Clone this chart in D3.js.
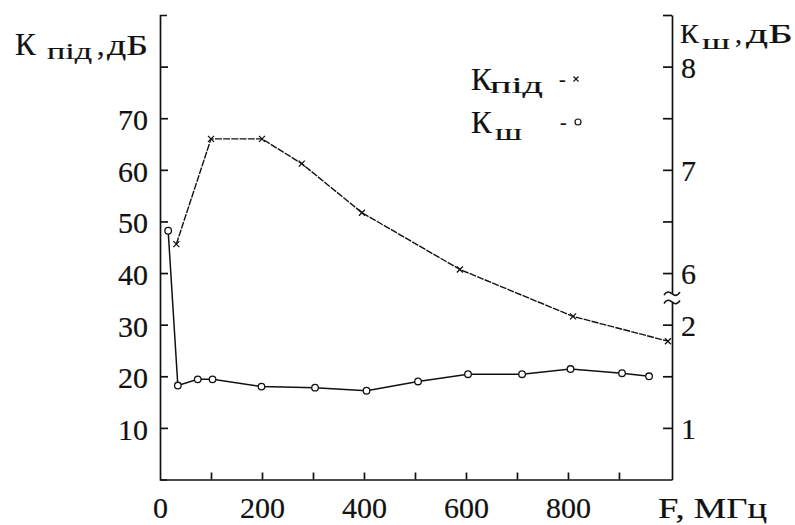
<!DOCTYPE html>
<html><head><meta charset="utf-8">
<script src="https://cdn.jsdelivr.net/npm/d3@7"></script>
<style>
body{margin:0;background:#fff}
svg{display:block;background:#fff}
.axis path,.axis line{stroke:#111;stroke-width:1.7px;fill:none}
</style>
</head><body>
<svg id="c" width="795" height="525"></svg>
<script>
// ---- data ----
const freqKpid = [32, 100, 200, 278, 396, 588, 810, 996];
const kpid     = [45.6, 66, 66, 61.2, 51.7, 40.7, 31.6, 26.8];
const freqKsh  = [16, 35, 74, 103, 199, 304, 405, 506, 604, 710, 805, 906, 959];
const ksh      = [6.41, 1.41, 1.47, 1.47, 1.40, 1.39, 1.36, 1.45, 1.52, 1.52, 1.57, 1.53, 1.50];
const leftTicks  = [10, 20, 30, 40, 50, 60, 70, 80];
const leftLabels = [10, 20, 30, 40, 50, 60, 70];
const rightUpperTicks = [6, 6.5, 7, 7.5, 8, 8.5];
const rightLowerTicks = [1, 1.5, 2];
const rightLabels = [1, 2, 6, 7, 8];
const xMinorTicks = [100, 200, 300, 400, 500, 600, 700, 800, 900];
const xLabels = [0, 200, 400, 600, 800];

const FONT = '"Liberation Serif"';
const INK = "#111";
const svg = d3.select("#c");
const x = d3.scaleLinear().domain([0, 1004]).range([160, 672]);
const y = d3.scaleLinear().domain([0, 90]).range([479.5, 15]);
// right axis: two broken linear scales (upper 6..8 dB, lower 1..2 dB)
const yUp = d3.scaleLinear().domain([5.8, 8.5]).range([y(5.8 * 20 - 80), y(8.5 * 20 - 80)]);
const yLo = d3.scaleLinear().domain([0.5, 2.22]).range([y(0.5 * 20 - 10), y(2.22 * 20 - 10)]);
const yR = v => v > 4 ? yUp(v) : yLo(v);

function styleAxis(g) {
  g.attr("font-family", FONT).attr("font-size", 30);
  g.selectAll("text").attr("font-family", FONT).attr("fill", INK).attr("stroke", INK).attr("stroke-width", 0.2);
}

// ---- axes ----
svg.append("g").attr("class", "axis").attr("transform", `translate(${x(0)},0)`)
  .call(d3.axisLeft(y).tickValues(leftTicks).tickSizeInner(-8).tickSizeOuter(-7).tickPadding(12)
    .tickFormat(d => leftLabels.includes(d) ? d : ""))
  .call(styleAxis)
  .call(g => g.selectAll("text").attr("dy", "0.38em"));

svg.append("g").attr("class", "axis").attr("transform", `translate(0,${y(0)})`)
  .call(d3.axisBottom(x).tickValues(xMinorTicks).tickSizeInner(-7).tickSizeOuter(0).tickFormat(""));
svg.append("g").attr("class", "axis").attr("transform", `translate(0,${y(0)})`)
  .call(d3.axisBottom(x).tickValues(xLabels).tickSize(0).tickPadding(17))
  .call(styleAxis)
  .call(g => g.select(".domain").remove());

const xr = x.range()[1];
svg.append("g").attr("class", "axis").attr("transform", `translate(${xr},0)`)
  .call(d3.axisRight(yUp).tickValues(rightUpperTicks).tickSizeInner(-9).tickSizeOuter(0).tickPadding(9)
    .tickFormat(d => rightLabels.includes(d) ? d : ""))
  .call(styleAxis)
  .call(g => g.selectAll("text").attr("dy", "0.36em"));
svg.append("g").attr("class", "axis").attr("transform", `translate(${xr},0)`)
  .call(d3.axisRight(yLo).tickValues(rightLowerTicks).tickSizeInner(-9).tickSizeOuter(0).tickPadding(9)
    .tickFormat(d => rightLabels.includes(d) ? d : ""))
  .call(styleAxis)
  .call(g => g.selectAll("text").attr("dy", "0.36em"));

// axis break marks
[yUp.range()[0], yLo.range()[1]].forEach(yb => {
  svg.append("path")
    .attr("d", `M${xr - 8},${yb + 1.5} c 2.5,-4 5,-4 8,-1.5 s 5.5,2.5 8,-1.5`)
    .attr("fill", "none").attr("stroke", INK).attr("stroke-width", 1.6);
});

// ---- series ----
const line = d3.line();
const ptsKpid = freqKpid.map((f, i) => [x(f), y(kpid[i])]);
const ptsKsh = freqKsh.map((f, i) => [x(f), yR(ksh[i])]);

svg.append("path").attr("d", line(ptsKpid)).attr("fill", "none")
  .attr("stroke", INK).attr("stroke-width", 1.4).attr("stroke-dasharray", "7,1.2");
svg.append("path").attr("d", line(ptsKsh)).attr("fill", "none")
  .attr("stroke", INK).attr("stroke-width", 1.5);

const xMark = (cx, cy, s) => `M${cx - s},${cy - s}L${cx + s},${cy + s}M${cx - s},${cy + s}L${cx + s},${cy - s}`;
svg.append("g").selectAll("path").data(ptsKpid).join("path")
  .attr("d", d => xMark(d[0], d[1], 3)).attr("stroke", INK).attr("stroke-width", 1.3).attr("fill", "none");
svg.append("g").selectAll("circle").data(ptsKsh).join("circle")
  .attr("cx", d => d[0]).attr("cy", d => d[1]).attr("r", 3.3)
  .attr("fill", "#fff").attr("stroke", INK).attr("stroke-width", 1.3);

// ---- titles ----
function txt(t, px, py, size, len) {
  const e = svg.append("text").attr("x", px).attr("y", py)
    .attr("font-family", FONT).attr("font-size", size)
    .attr("fill", INK).attr("stroke", INK).attr("stroke-width", 0.2).text(t);
  if (len) e.attr("textLength", len).attr("lengthAdjust", "spacingAndGlyphs");
  return e;
}
// left axis title
txt("К", 15, 55, 31);
txt("під", 47, 59, 23, 45);
txt(",", 97, 55, 30);
txt("дБ", 107, 55, 30, 41);
// right axis title
txt("К", 680, 43, 28);
txt("ш", 702, 49, 22, 28);
txt(",", 735, 43, 28);
txt("дБ", 746, 43, 28, 47);
// x axis title
txt("F, МГц", 658, 518, 30, 109);

// legend
txt("К", 471, 90, 31);
txt("під", 490, 93, 23, 53);
txt("-", 559, 86, 20);
svg.append("path").attr("d", xMark(576, 79, 2.5)).attr("stroke", INK).attr("stroke-width", 1.2);
txt("К", 471, 133, 31);
txt("ш", 495, 140, 23, 27);
txt("-", 560, 129, 20);
svg.append("circle").attr("cx", 578).attr("cy", 122).attr("r", 3)
  .attr("fill", "#fff").attr("stroke", INK).attr("stroke-width", 1.2);
</script>
</body></html>
